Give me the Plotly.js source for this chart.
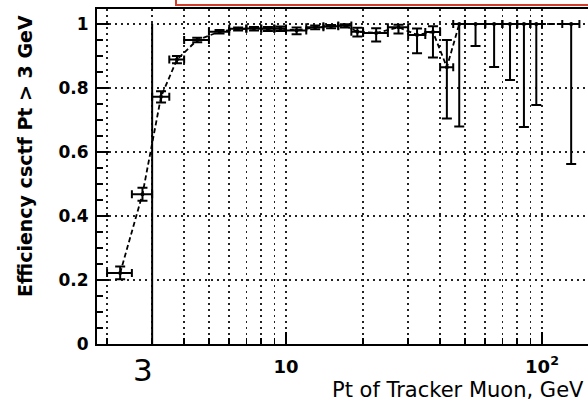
<!DOCTYPE html>
<html>
<head>
<meta charset="utf-8">
<script src="https://cdn.plot.ly/plotly-3.0.1.min.js"></script>
<style>
  html, body { margin: 0; padding: 0; background: #fff; overflow: hidden; width: 588px; height: 401px; }
  #chart { width: 592px; height: 401px; }
</style>
</head>
<body>
<div id="chart"></div>
<script>
// Bin edges in Pt (GeV)
const binLow  = [2, 2.5, 3, 3.5, 4, 5, 6, 7, 8, 9, 10, 12, 14, 16, 18, 20, 25, 30, 35, 40, 45, 50, 60, 70, 80, 90, 120];
const binHigh = [2.5, 3, 3.5, 4, 5, 6, 7, 8, 9, 10, 12, 14, 16, 18, 20, 25, 30, 35, 40, 45, 50, 60, 70, 80, 90, 100, 140];
// Efficiency per bin and its asymmetric errors
const eff     = [0.222, 0.468, 0.773, 0.889, 0.950, 0.976, 0.985, 0.986, 0.985, 0.986, 0.980, 0.990, 0.993, 0.995, 0.976, 0.972, 0.990, 0.966, 0.975, 0.865, 1.0, 1.0, 1.0, 1.0, 1.0, 1.0, 1.0];
const errLow  = [0.020, 0.020, 0.018, 0.012, 0.007, 0.006, 0.005, 0.006, 0.007, 0.008, 0.012, 0.006, 0.006, 0.006, 0.015, 0.027, 0.020, 0.057, 0.080, 0.160, 0.320, 0.069, 0.134, 0.175, 0.322, 0.253, 0.4375];
const errHigh = [0.020, 0.020, 0.017, 0.011, 0.007, 0.005, 0.004, 0.005, 0.006, 0.006, 0.009, 0.005, 0.004, 0.004, 0.012, 0.015, 0.008, 0.020, 0.018, 0.085, 0, 0, 0, 0, 0, 0, 0];
// Pt threshold of the trigger
const ptCut = 3;
const xTickVals = [10, 100];
const xTickText = ['10', '10<sup>2</sup>'];
const xMinorVals = [2, 3, 4, 5, 6, 7, 8, 9, 20, 30, 40, 50, 60, 70, 80, 90];

const center = binLow.map((lo, i) => (lo + binHigh[i]) / 2);

const effTrace = {
  type: 'scatter',
  mode: 'lines+markers',
  x: center,
  y: eff,
  line: { color: '#000', width: 1.8, dash: '5px,3px' },
  marker: { color: '#000', size: 4 },
  error_x: {
    type: 'data', symmetric: false,
    array: binHigh.map((hi, i) => hi - center[i]),
    arrayminus: binLow.map((lo, i) => center[i] - lo),
    color: '#000', thickness: 2, width: 4
  },
  error_y: {
    type: 'data', symmetric: false,
    array: errHigh, arrayminus: errLow,
    color: '#000', thickness: 2, width: 5
  },
  hoverinfo: 'skip'
};

const cutTrace = {
  type: 'scatter',
  mode: 'lines',
  x: [ptCut, ptCut],
  y: [0, 1],
  line: { color: '#000', width: 2 },
  hoverinfo: 'skip'
};

const gridStyle = { gridcolor: '#222', gridwidth: 1.5, griddash: '2px,4px' };

const layout = {
  width: 592,
  height: 401,
  margin: { l: 97, r: 0, t: 9, b: 57 },
  paper_bgcolor: '#fff',
  plot_bgcolor: '#fff',
  showlegend: false,
  font: { family: 'DejaVu Sans', color: '#000' },
  xaxis: {
    type: 'log',
    range: [0.2617, 2.1953],
    tickmode: 'array',
    tickvals: xTickVals,
    ticktext: xTickText,
    ticks: 'inside', ticklen: 12, tickwidth: 1.5, tickcolor: '#000',
    tickfont: { family: 'DejaVu Sans', size: 18, weight: 'bold' },
    ticklabelstandoff: 5,
    showline: true, linecolor: '#000', linewidth: 2, mirror: true,
    showgrid: true, ...gridStyle,
    zeroline: false,
    minor: {
      tickmode: 'array', tickvals: xMinorVals,
      ticks: 'inside', ticklen: 6, tickwidth: 1.5, tickcolor: '#000',
      showgrid: true, ...gridStyle
    }
  },
  yaxis: {
    range: [0, 1.0469],
    tickmode: 'linear', tick0: 0, dtick: 0.2,
    ticks: 'inside', ticklen: 12, tickwidth: 1.5, tickcolor: '#000',
    tickfont: { family: 'DejaVu Sans', size: 17, weight: 'bold' },
    ticklabelstandoff: 3,
    showline: true, linecolor: '#000', linewidth: 2, mirror: true,
    showgrid: true, ...gridStyle,
    zeroline: false,
    minor: { dtick: 0.05, ticks: 'inside', ticklen: 6, tickwidth: 1.5, tickcolor: '#000', showgrid: false }
  },
  shapes: [
    {
      type: 'rect', xref: 'paper', yref: 'paper',
      x0: 0.1596, x1: 1.2, y0: 1.012, y1: 1.2,
      line: { color: '#d23c2a', width: 2 }, fillcolor: '#fff', layer: 'above'
    }
  ],
  annotations: [
    {
      text: '<b>Efficiency csctf Pt > 3 GeV</b>',
      xref: 'paper', yref: 'paper', x: -0.1455, y: 0.988,
      xanchor: 'center', yanchor: 'top', textangle: -90, showarrow: false,
      font: { family: 'DejaVu Sans', size: 19, color: '#000' }
    },
    {
      text: 'Pt of Tracker Muon, GeV',
      xref: 'paper', yref: 'paper', x: 0.988, y: -0.137,
      xanchor: 'right', yanchor: 'middle', showarrow: false,
      font: { family: 'DejaVu Sans', size: 21, color: '#000' }
    },
    {
      text: String(ptCut),
      xref: 'x', yref: 'paper', x: Math.log10(ptCut), y: -0.079,
      xanchor: 'center', yanchor: 'middle', xshift: -9, showarrow: false,
      font: { family: 'DejaVu Sans', size: 31, color: '#000' }
    }
  ]
};

Plotly.newPlot('chart', [cutTrace, effTrace], layout, { staticPlot: true, displayModeBar: false });
</script>
</body>
</html>
